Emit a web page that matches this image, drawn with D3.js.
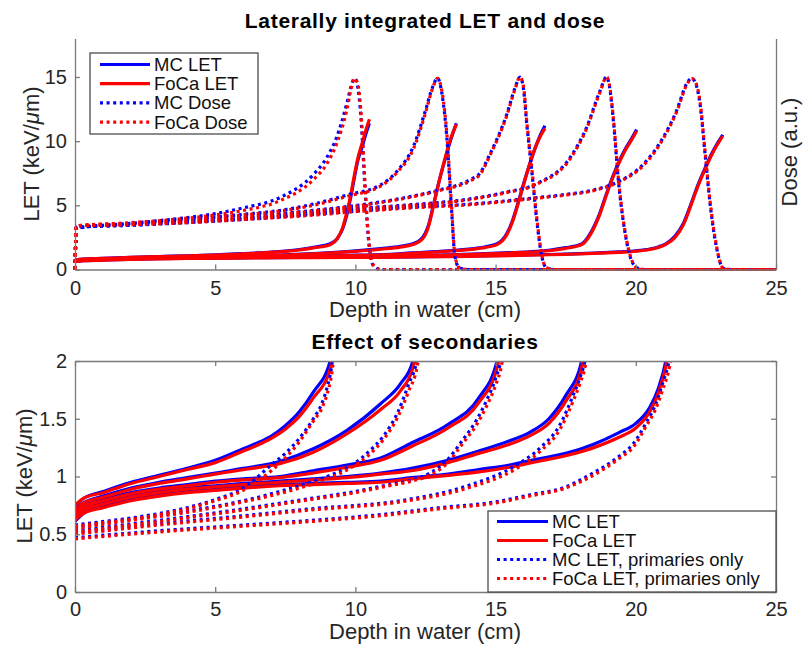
<!DOCTYPE html>
<html lang="en">
<head>
<meta charset="UTF-8">
<title>Laterally integrated LET and dose</title>
<script src="https://d3js.org/d3.v7.min.js"></script>
<style>
  body { margin: 0; background: #fff; }
</style>
</head>
<body>
<script>
// ---- tick labels ----
const xTicks = [0, 5, 10, 15, 20, 25];
const topYTicks = [0, 5, 10, 15];
const botYTicks = [0, 0.5, 1, 1.5, 2];
const topLegend = ["MC LET", "FoCa LET", "MC Dose", "FoCa Dose"];
const botLegend = ["MC LET", "FoCa LET", "MC LET, primaries only", "FoCa LET, primaries only"];

// ---- LET with secondaries (one array per beam) ----
const letDepth = [
  [0, 0.3, 1, 2, 3, 4, 5, 6, 6.5, 7, 7.5, 8, 8.5, 9.1, 9.35, 9.55, 9.7, 9.85, 9.95, 10.1, 10.22, 10.35, 10.5],
  [0, 0.3, 1, 2, 3, 4, 5, 6, 7.3, 8.5, 9.7, 10.9, 11.6, 12.05, 12.4, 12.6, 12.8, 13.0, 13.2, 13.4, 13.6],
  [0, 0.3, 1, 2, 3, 4, 5, 6, 7.3, 8.5, 9.7, 10.9, 12, 13.3, 14.4, 15.05, 15.4, 15.6, 15.8, 16.0, 16.2, 16.4, 16.6, 16.76],
  [0, 0.3, 1, 2, 3, 4, 5, 6, 7.3, 8.5, 9.7, 10.9, 12, 13.3, 14.4, 15.5, 16.2, 16.9, 17.5, 18.07, 18.4, 18.7, 19.0, 19.3, 19.6, 19.85, 20.03],
  [0, 0.3, 1, 2, 3, 4, 5, 6, 7.3, 8.5, 9.7, 10.9, 12, 13.3, 14.4, 15.5, 16.5, 17.5, 18.5, 19.4, 20, 20.5, 20.8, 21.07, 21.4, 21.7, 21.95, 22.2, 22.45, 22.7, 22.9, 23.1]
];
const mcLet = [
  [0.74, 0.81, 0.87, 0.95, 1.01, 1.07, 1.14, 1.24, 1.29, 1.35, 1.44, 1.56, 1.73, 2.0, 2.4, 3.2, 4.3, 5.8, 7.0, 8.6, 9.4, 10.4, 11.4],
  [0.70, 0.77, 0.83, 0.90, 0.95, 0.99, 1.03, 1.07, 1.13, 1.24, 1.40, 1.63, 1.80, 2.0, 2.5, 3.4, 5.2, 7.0, 8.6, 10.1, 11.4],
  [0.67, 0.74, 0.80, 0.86, 0.90, 0.93, 0.96, 0.98, 1.0, 1.05, 1.10, 1.16, 1.29, 1.45, 1.68, 2.0, 2.8, 3.8, 5.2, 6.7, 8.1, 9.4, 10.5, 11.2],
  [0.64, 0.71, 0.77, 0.83, 0.87, 0.90, 0.92, 0.94, 0.96, 0.98, 1.0, 1.03, 1.07, 1.14, 1.22, 1.31, 1.38, 1.50, 1.70, 2.0, 2.9, 4.3, 6.2, 7.9, 9.3, 10.2, 10.9],
  [0.61, 0.68, 0.74, 0.80, 0.84, 0.87, 0.89, 0.91, 0.93, 0.94, 0.95, 0.96, 0.99, 1.02, 1.06, 1.10, 1.15, 1.20, 1.28, 1.38, 1.46, 1.60, 1.76, 2.0, 2.6, 3.6, 5.0, 6.5, 7.8, 9.0, 9.8, 10.5]
];
const focaLet = [
  [0.75, 0.81, 0.86, 0.94, 1.00, 1.06, 1.12, 1.22, 1.27, 1.33, 1.41, 1.52, 1.68, 1.93, 2.4, 3.3, 4.5, 6.0, 7.2, 8.8, 9.7, 10.7, 11.7],
  [0.71, 0.77, 0.82, 0.89, 0.94, 0.98, 1.02, 1.06, 1.11, 1.21, 1.37, 1.58, 1.74, 1.94, 2.4, 3.3, 5.1, 7.0, 8.7, 10.2, 11.3],
  [0.68, 0.74, 0.79, 0.85, 0.89, 0.92, 0.95, 0.97, 0.99, 1.03, 1.08, 1.14, 1.26, 1.42, 1.64, 1.94, 2.7, 3.7, 5.1, 6.6, 8.1, 9.4, 10.4, 11.0],
  [0.65, 0.71, 0.76, 0.82, 0.86, 0.89, 0.91, 0.93, 0.95, 0.97, 0.99, 1.02, 1.05, 1.12, 1.20, 1.28, 1.35, 1.46, 1.65, 1.94, 2.8, 4.2, 6.1, 7.8, 9.2, 10.1, 10.8],
  [0.62, 0.68, 0.73, 0.79, 0.83, 0.86, 0.88, 0.90, 0.92, 0.93, 0.94, 0.95, 0.98, 1.01, 1.04, 1.08, 1.13, 1.18, 1.25, 1.34, 1.42, 1.56, 1.72, 1.95, 2.5, 3.5, 4.9, 6.4, 7.7, 8.9, 9.7, 10.4]
];

// ---- LET from primaries only ----
const primDepth = [
  [0, 1, 2, 3, 4, 5, 6, 7, 7.5, 8, 8.5, 8.8, 9.0, 9.15, 9.3],
  [0, 2, 4, 6, 8, 9, 10, 10.5, 11, 11.5, 11.9, 12.2, 12.4],
  [0, 3, 6, 8.4, 10, 11, 12, 12.66, 13.3, 13.84, 14.3, 14.68, 15.0, 15.2, 15.4],
  [0, 3, 6, 8.4, 11.6, 14, 15.75, 16.6, 17.3, 17.76, 18.0, 18.2, 18.4],
  [0, 3, 6, 8.4, 10.9, 13, 15, 16.2, 17.5, 18.25, 19.43, 19.9, 20.38, 20.7, 20.97, 21.2, 21.4]
];
const mcPrim = [
  [0.58, 0.61, 0.64, 0.68, 0.73, 0.80, 0.90, 1.10, 1.20, 1.33, 1.50, 1.63, 1.78, 1.95, 2.3],
  [0.56, 0.63, 0.70, 0.79, 0.92, 1.0, 1.12, 1.22, 1.35, 1.55, 1.80, 2.02, 2.4],
  [0.53, 0.62, 0.72, 0.81, 0.87, 0.92, 0.97, 1.03, 1.15, 1.32, 1.48, 1.66, 1.85, 2.02, 2.4],
  [0.51, 0.59, 0.66, 0.72, 0.79, 0.92, 1.10, 1.25, 1.45, 1.70, 1.85, 2.02, 2.4],
  [0.47, 0.53, 0.58, 0.62, 0.67, 0.73, 0.78, 0.84, 0.91, 1.0, 1.18, 1.28, 1.47, 1.62, 1.82, 2.02, 2.4]
];
const focaPrim = [
  [0.57, 0.60, 0.63, 0.67, 0.72, 0.79, 0.88, 1.05, 1.16, 1.30, 1.48, 1.59, 1.72, 1.88, 2.2],
  [0.55, 0.62, 0.69, 0.78, 0.90, 0.98, 1.10, 1.19, 1.32, 1.51, 1.74, 1.95, 2.3],
  [0.52, 0.61, 0.71, 0.80, 0.86, 0.91, 0.96, 1.01, 1.12, 1.29, 1.44, 1.61, 1.79, 1.95, 2.3],
  [0.50, 0.58, 0.65, 0.71, 0.78, 0.90, 1.07, 1.22, 1.41, 1.65, 1.80, 1.96, 2.3],
  [0.46, 0.52, 0.57, 0.61, 0.66, 0.72, 0.77, 0.83, 0.90, 0.98, 1.16, 1.25, 1.44, 1.58, 1.76, 1.95, 2.3]
];

// ---- dose (a.u.) ----
const doseDepth = [
  [0, 0.05, 2, 4, 5, 6, 7.3, 8.5, 9, 9.33, 9.69, 9.85, 9.97, 10.1, 10.22, 10.34, 10.46, 10.64, 10.9, 25],
  [0, 0.05, 2, 4, 6, 7.3, 8.5, 9.7, 10.9, 11.5, 12.07, 12.5, 12.75, 12.93, 13.1, 13.26, 13.43, 13.55, 13.7, 14, 25],
  [0, 0.05, 2, 4, 6, 8, 9.7, 11, 12, 13, 14.09, 14.44, 14.8, 15.4, 15.7, 15.87, 16.0, 16.1, 16.29, 16.47, 16.65, 16.8, 17.1, 25],
  [0, 0.05, 2, 4, 6, 8, 9.7, 12, 14.09, 15.3, 16.47, 17.65, 18.25, 18.72, 18.96, 19.05, 19.2, 19.38, 19.55, 19.8, 20.03, 20.3, 25],
  [0, 0.05, 2, 4, 6, 8, 9.7, 12, 14.09, 16.47, 17.5, 18.5, 19.43, 20.27, 20.98, 21.46, 21.82, 21.99, 22.15, 22.29, 22.47, 22.65, 22.88, 23.12, 23.4, 25]
];
const mcDose = [
  [0, 3.2, 3.6, 4.05, 4.35, 4.8, 5.6, 7.4, 8.8, 10.3, 12.9, 14.3, 14.9, 14.0, 11.1, 6.4, 2.5, 0.3, 0, 0],
  [0, 3.25, 3.55, 3.9, 4.3, 4.6, 5.1, 5.8, 6.6, 7.7, 9.6, 12.4, 14.2, 14.9, 13.5, 10.3, 4.6, 1.0, 0.15, 0, 0],
  [0, 3.3, 3.5, 3.75, 4.1, 4.5, 4.9, 5.3, 5.7, 6.2, 7.0, 7.5, 9.0, 12.1, 14.2, 15.0, 14.0, 11.6, 7.7, 3.8, 1.0, 0.15, 0, 0],
  [0, 3.3, 3.45, 3.7, 3.95, 4.3, 4.7, 5.05, 5.5, 6.0, 6.7, 8.7, 11.1, 13.9, 15.0, 14.4, 11.6, 6.9, 3.8, 1.0, 0.15, 0, 0],
  [0, 3.3, 3.45, 3.65, 3.9, 4.2, 4.5, 4.85, 5.1, 5.6, 5.85, 6.2, 6.9, 8.2, 10.3, 12.4, 14.5, 14.9, 14.4, 12.9, 9.0, 5.1, 1.7, 0.1, 0, 0]
];
const focaDose = [
  [0, 3.4, 3.65, 4.0, 4.25, 4.6, 5.35, 7.0, 8.3, 9.8, 12.4, 14.1, 14.9, 14.3, 11.6, 6.8, 2.7, 0.35, 0, 0],
  [0, 3.4, 3.6, 3.9, 4.25, 4.55, 5.0, 5.7, 6.5, 7.6, 9.4, 12.2, 14.1, 14.9, 13.7, 10.6, 4.9, 1.1, 0.15, 0, 0],
  [0, 3.4, 3.55, 3.75, 4.05, 4.45, 4.85, 5.25, 5.65, 6.15, 6.9, 7.4, 8.9, 12.0, 14.1, 15.0, 14.2, 11.8, 7.9, 4.0, 1.1, 0.15, 0, 0],
  [0, 3.4, 3.5, 3.7, 3.95, 4.25, 4.65, 5.0, 5.45, 5.95, 6.65, 8.6, 11.0, 13.8, 15.0, 14.5, 11.8, 7.1, 3.9, 1.1, 0.15, 0, 0],
  [0, 3.4, 3.5, 3.65, 3.9, 4.15, 4.45, 4.8, 5.05, 5.55, 5.8, 6.15, 6.85, 8.1, 10.2, 12.3, 14.4, 14.9, 14.5, 13.1, 9.2, 5.3, 1.8, 0.1, 0, 0]
];

// ---- drawing ----
const FONT = "'Liberation Sans', Arial, Helvetica, sans-serif";
const AXIS = "#7a7a7a";
const TEXT = "#262626";
const BLUE = "#0000ff";
const RED = "#ff0000";
const DOTS = "3,3.6";

const svg = d3.select("body").append("svg")
    .attr("width", 803)
    .attr("height", 646)
    .style("font-family", FONT);

const x = d3.scaleLinear().domain([0, 25]).range([75, 776]);
const yTop = d3.scaleLinear().domain([0, 18]).range([269.5, 38.5]);
const yDose = d3.scaleLinear().domain([0, 18]).range([269.5, 38.5]);
const yBot = d3.scaleLinear().domain([0, 2]).range([592, 361]);

function styleAxis(g) {
    g.attr("font-size", 20).attr("font-family", FONT);
    g.select(".domain").attr("stroke", AXIS).attr("stroke-width", 1.3);
    g.selectAll(".tick line").attr("stroke", AXIS).attr("stroke-width", 1.3);
    g.selectAll(".tick text").attr("fill", TEXT);
}

function drawCurves(g, depths, values, yScale, color, dotted) {
    const line = d3.line()
        .x(d => x(d[0]))
        .y(d => yScale(d[1]))
        .curve(d3.curveMonotoneX);
    const rows = values.map((v, i) => v.map((val, j) => [depths[i][j], val]));
    g.selectAll(null)
        .data(rows)
        .join("path")
        .attr("d", line)
        .attr("fill", "none")
        .attr("stroke", color)
        .attr("stroke-width", 3.2)
        .attr("stroke-dasharray", dotted ? DOTS : null);
}

function yLabel(xc, yc, parts) {
    const t = svg.append("text")
        .attr("transform", `translate(${xc},${yc}) rotate(-90)`)
        .attr("text-anchor", "middle")
        .attr("dy", "0.35em")
        .attr("font-size", 22)
        .attr("fill", TEXT);
    parts.forEach(p => t.append("tspan").attr("font-style", p[1] ? "italic" : null).text(p[0]));
}

function title(yb, label) {
    svg.append("text")
        .attr("x", 425).attr("y", yb)
        .attr("text-anchor", "middle")
        .attr("font-size", 21).attr("font-weight", "bold")
        .attr("letter-spacing", 0.7)
        .text(label);
}

function xLabel(yb) {
    svg.append("text")
        .attr("x", 425).attr("y", yb)
        .attr("text-anchor", "middle")
        .attr("font-size", 22).attr("fill", TEXT)
        .text("Depth in water (cm)");
}

function legend(labels, box, lineX0, lineX1, rowY0, rowStep) {
    const g = svg.append("g");
    g.append("rect")
        .attr("x", box[0]).attr("y", box[1])
        .attr("width", box[2]).attr("height", box[3])
        .attr("fill", "#fff").attr("stroke", "#4d4d4d").attr("stroke-width", 1.3);
    const rows = g.selectAll("g").data(labels).join("g")
        .attr("transform", (d, i) => `translate(0,${rowY0 + i * rowStep})`);
    rows.append("line")
        .attr("x1", lineX0).attr("x2", lineX1)
        .attr("stroke", (d, i) => i % 2 === 0 ? BLUE : RED)
        .attr("stroke-width", 3.2)
        .attr("stroke-dasharray", (d, i) => i >= 2 ? DOTS : null);
    rows.append("text")
        .attr("x", lineX1 + 4)
        .attr("dy", "0.35em")
        .attr("font-size", 18.5)
        .attr("fill", "#111")
        .text(d => d);
}

// ===== top panel =====
const topPanel = svg.append("g");
drawCurves(topPanel, letDepth, mcLet, yTop, BLUE, false);
drawCurves(topPanel, letDepth, focaLet, yTop, RED, false);
drawCurves(topPanel, doseDepth, mcDose, yDose, BLUE, true);
drawCurves(topPanel, doseDepth, focaDose, yDose, RED, true);

topPanel.append("g")
    .attr("transform", `translate(0,${yTop(0)})`)
    .call(d3.axisBottom(x).tickValues(xTicks).tickSize(-5).tickSizeOuter(0).tickPadding(11))
    .call(styleAxis);
topPanel.append("g")
    .attr("transform", `translate(${x(0)},0)`)
    .call(d3.axisLeft(yTop).tickValues(topYTicks).tickSize(-5).tickSizeOuter(0).tickPadding(8))
    .call(styleAxis);
topPanel.append("g")
    .attr("transform", `translate(${x(25)},0)`)
    .call(d3.axisRight(yDose).tickValues([]).tickSizeOuter(0))
    .call(styleAxis);

title(28, "Laterally integrated LET and dose");
xLabel(317);
yLabel(31, 154, [["LET (keV/", false], ["\u03bc", true], ["m)", false]]);
yLabel(789, 152, [["Dose (a.u.)", false]]);

legend(topLegend, [90, 53, 168, 81], 100, 150, 64.5, 19.2);

// ===== bottom panel =====
svg.append("clipPath").attr("id", "botClip")
    .append("rect")
    .attr("x", x(0)).attr("y", yBot(2))
    .attr("width", x(25) - x(0)).attr("height", yBot(0) - yBot(2));

const botPanel = svg.append("g");
const botCurves = botPanel.append("g").attr("clip-path", "url(#botClip)");
drawCurves(botCurves, letDepth, mcLet, yBot, BLUE, false);
drawCurves(botCurves, letDepth, focaLet, yBot, RED, false);
drawCurves(botCurves, primDepth, mcPrim, yBot, BLUE, true);
drawCurves(botCurves, primDepth, focaPrim, yBot, RED, true);

botPanel.append("g")
    .attr("transform", `translate(0,${yBot(0)})`)
    .call(d3.axisBottom(x).tickValues(xTicks).tickSize(-5).tickSizeOuter(0).tickPadding(10))
    .call(styleAxis);
botPanel.append("g")
    .attr("transform", `translate(0,${yBot(2)})`)
    .call(d3.axisTop(x).tickValues(xTicks).tickSize(-5).tickSizeOuter(0).tickFormat(() => ""))
    .call(styleAxis);
botPanel.append("g")
    .attr("transform", `translate(${x(0)},0)`)
    .call(d3.axisLeft(yBot).tickValues(botYTicks).tickSize(-5).tickSizeOuter(0).tickPadding(8).tickFormat(d3.format("~g")))
    .call(styleAxis);
botPanel.append("g")
    .attr("transform", `translate(${x(25)},0)`)
    .call(d3.axisRight(yBot).tickValues(botYTicks).tickSize(-5).tickSizeOuter(0).tickFormat(() => ""))
    .call(styleAxis);

title(349, "Effect of secondaries");
xLabel(639);
yLabel(24, 476, [["LET (keV/", false], ["\u03bc", true], ["m)", false]]);

legend(botLegend, [488, 511, 288, 81], 497, 548, 521.5, 19);
</script>
</body>
</html>
